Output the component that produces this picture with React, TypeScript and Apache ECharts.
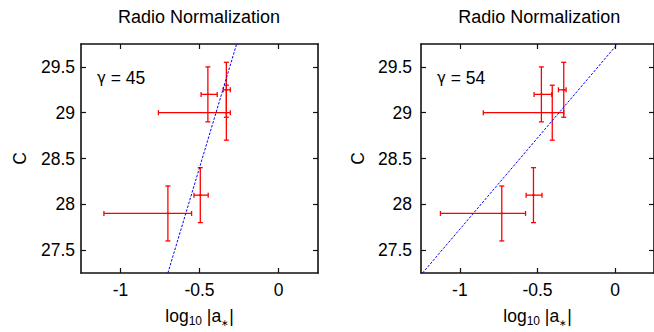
import React, { useEffect, useRef } from "react";
import * as echarts from "echarts";

// ---- data ----
const titles = ["Radio Normalization", "Radio Normalization"];
const gammaValues = ["45", "54"];
const xTicks = [-1, -0.5, 0];
const yTicks = [27.5, 28, 28.5, 29, 29.5];
const xRange = [-1.25, 0.25];
const yRange = [27.25, 29.75];

// [x, y, xLow, xHigh, yLow, yHigh]
const pointsG45 = [
  [-0.70, 27.9, -1.105, -0.55, 27.6, 28.2],
  [-0.495, 28.1, -0.535, -0.445, 27.8, 28.4],
  [-0.447, 29.2, -0.49, -0.388, 28.9, 29.5],
  [-0.33, 29.0, -0.76, -0.305, 28.7, 29.3],
  [-0.33, 29.25, -0.35, -0.305, 28.95, 29.55],
];
const pointsG54 = [
  [-0.73, 27.9, -1.125, -0.577, 27.6, 28.2],
  [-0.526, 28.1, -0.573, -0.471, 27.8, 28.4],
  [-0.475, 29.2, -0.522, -0.408, 28.9, 29.5],
  [-0.405, 29.0, -0.849, -0.331, 28.7, 29.3],
  [-0.331, 29.25, -0.365, -0.316, 28.95, 29.55],
];
const fitG45 = [
  [-0.70, 27.25],
  [-0.265, 29.75],
];
const fitG54 = [
  [-1.24, 27.25],
  [0.015, 29.75],
];

const FONT = "Liberation Sans";

export default function App() {
  const ref = useRef<HTMLDivElement>(null);
  useEffect(() => {
    if (!ref.current) return;
    const chart = echarts.init(ref.current, null, { renderer: "svg" });

    const grids = [
      { left: 81, top: 44, width: 237, height: 236, labelMargin: 6, nameGap: 52 },
      { left: 421, top: 44, width: 237.5, height: 236, labelMargin: 9, nameGap: 54 },
    ];
    const pointSets = [pointsG45, pointsG54];
    const fits = [fitG45, fitG54];

    const axisLine = { show: true, onZero: false, lineStyle: { color: "#111", width: 1.6 } };
    const tick = (vals: number[]) => ({
      show: true,
      inside: true,
      length: 5,
      customValues: vals,
      lineStyle: { color: "#111", width: 1.2 },
    });

    const xAxes: any[] = [];
    const yAxes: any[] = [];
    const series: any[] = [];
    const graphics: any[] = [];

    grids.forEach((g, i) => {
      xAxes.push({
        type: "value",
        gridIndex: i,
        position: "bottom",
        min: xRange[0],
        max: xRange[1],
        axisLine,
        axisTick: tick(xTicks),
        splitLine: { show: false },
        axisLabel: {
          customValues: xTicks,
          margin: 8,
          color: "#000",
          fontFamily: FONT,
          fontSize: 17.5,
        },
        name: "{n|log}{s|10}{n| |a}{t|∗}{n||}",
        nameLocation: "middle",
        nameGap: 32,
        nameTextStyle: {
          rich: {
            n: { fontFamily: FONT, fontSize: 17.5, color: "#000", lineHeight: 22 },
            s: {
              fontFamily: FONT,
              fontSize: 12,
              color: "#000",
              verticalAlign: "bottom",
              lineHeight: 12,
            },
            t: {
              fontFamily: FONT,
              fontSize: 9,
              color: "#000",
              verticalAlign: "bottom",
              lineHeight: 15,
            },
          },
        },
      });
      xAxes.push({
        type: "value",
        gridIndex: i,
        position: "top",
        min: xRange[0],
        max: xRange[1],
        axisLine,
        axisTick: tick(xTicks),
        splitLine: { show: false },
        axisLabel: { show: false },
      });
      yAxes.push({
        type: "value",
        gridIndex: i,
        position: "left",
        min: yRange[0],
        max: yRange[1],
        axisLine,
        axisTick: tick(yTicks),
        splitLine: { show: false },
        axisLabel: {
          customValues: yTicks,
          margin: g.labelMargin,
          color: "#000",
          fontFamily: FONT,
          fontSize: 17.5,
        },
        name: "C",
        nameLocation: "middle",
        nameGap: g.nameGap,
        nameRotate: 90,
        nameTextStyle: { fontFamily: FONT, fontSize: 17.5, color: "#000" },
      });
      yAxes.push({
        type: "value",
        gridIndex: i,
        position: "right",
        min: yRange[0],
        max: yRange[1],
        axisLine,
        axisTick: tick(yTicks),
        splitLine: { show: false },
        axisLabel: { show: false },
      });

      series.push({
        type: "line",
        xAxisIndex: 2 * i,
        yAxisIndex: 2 * i,
        data: fits[i],
        symbol: "none",
        clip: true,
        lineStyle: { color: "#0000ff", width: 1, type: [2.5, 1.5] },
        z: 3,
      });
      series.push({
        type: "custom",
        xAxisIndex: 2 * i,
        yAxisIndex: 2 * i,
        data: pointSets[i],
        dimensions: ["x", "y", "xlo", "xhi", "ylo", "yhi"],
        encode: { x: 0, y: 1 },
        z: 2,
        renderItem: (params: any, api: any) => {
          const x = api.value(0);
          const y = api.value(1);
          const l = api.coord([api.value(2), y]);
          const r = api.coord([api.value(3), y]);
          const b = api.coord([x, api.value(4)]);
          const t = api.coord([x, api.value(5)]);
          const c = api.coord([x, y]);
          const cap = 2.5;
          const style = { stroke: "#ff0000", lineWidth: 1.3, fill: null };
          const ln = (x1: number, y1: number, x2: number, y2: number) => ({
            type: "line",
            shape: { x1, y1, x2, y2 },
            style,
          });
          return {
            type: "group",
            children: [
              ln(l[0], l[1], r[0], r[1]),
              ln(l[0], l[1] - cap, l[0], l[1] + cap),
              ln(r[0], r[1] - cap, r[0], r[1] + cap),
              ln(b[0], b[1], t[0], t[1]),
              ln(b[0] - cap, b[1], b[0] + cap, b[1]),
              ln(t[0] - cap, t[1], t[0] + cap, t[1]),
              ln(c[0] - 1.5, c[1], c[0] + 1.5, c[1]),
            ],
          };
        },
      });

      graphics.push({
        type: "text",
        x: g.left + g.width / 2 - 0.5,
        y: 17,
        style: {
          text: titles[i],
          align: "center",
          verticalAlign: "middle",
          font: `18px "${FONT}"`,
          fill: "#000",
        },
      });
      graphics.push({
        type: "text",
        x: g.left + 16,
        y: 78,
        style: {
          text: "{g|γ}{n| = " + gammaValues[i] + "}",
          align: "left",
          verticalAlign: "middle",
          rich: {
            g: { fontFamily: "DejaVu Sans", fontSize: 15, fill: "#000", color: "#000" },
            n: { fontFamily: FONT, fontSize: 17.5, fill: "#000", color: "#000" },
          },
        },
      });
    });

    chart.setOption({
      animation: false,
      backgroundColor: "#fff",
      grid: grids.map((g) => ({
        left: g.left,
        top: g.top,
        width: g.width,
        height: g.height,
        containLabel: false,
      })),
      xAxis: xAxes,
      yAxis: yAxes,
      series,
      graphic: graphics,
    });
    return () => chart.dispose();
  }, []);

  return (
    <div
      ref={ref}
      style={{ position: "fixed", left: 0, top: 0, width: 654, height: 332 }}
    />
  );
}
